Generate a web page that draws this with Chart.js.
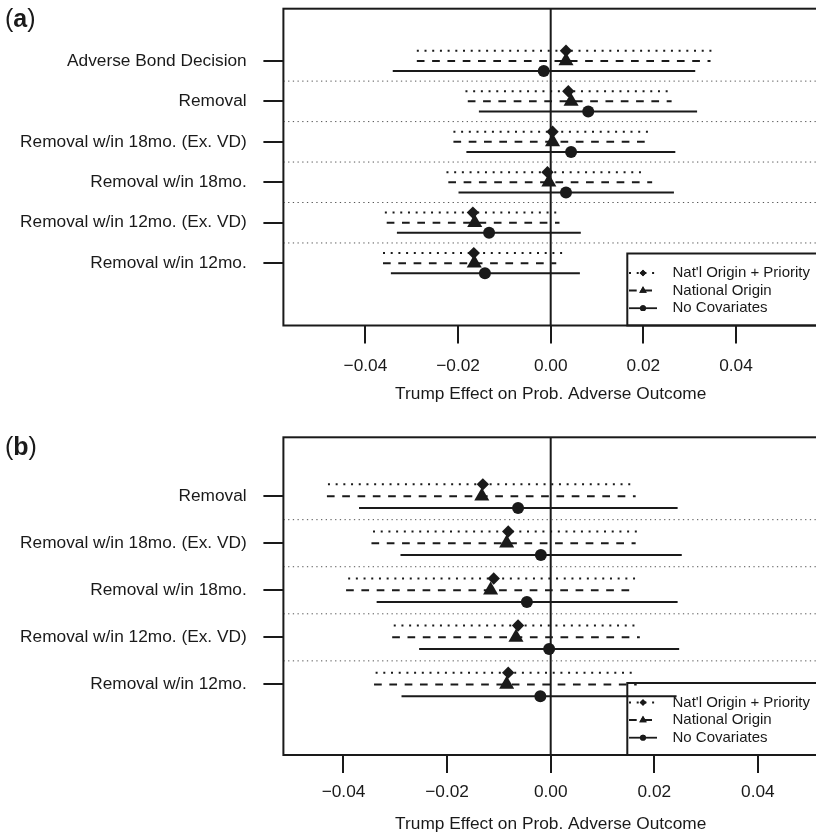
<!DOCTYPE html>
<html>
<head>
<meta charset="utf-8">
<script src="https://cdn.jsdelivr.net/npm/chart.js@4.4.1/dist/chart.umd.min.js"></script>
<style>
  html, body { margin: 0; padding: 0; background: #fff; overflow: hidden; }
  canvas { position: absolute; left: 0; }
  #chartA { top: 0; }
  #chartB { top: 418px; }
</style>
</head>
<body>
<canvas id="chartA" width="830" height="418"></canvas>
<canvas id="chartB" width="830" height="419"></canvas>
<script>
// model names (legend) and axis text
const modelNames = ["Nat'l Origin + Priority", "National Origin", "No Covariates"];
const xTitle = 'Trump Effect on Prob. Adverse Outcome';
const xTickValues = [-0.04, -0.02, 0, 0.02, 0.04];

// panel (a): outcomes, top to bottom
const labelsA = ['Adverse Bond Decision', 'Removal', 'Removal w/in 18mo. (Ex. VD)',
  'Removal w/in 18mo.', 'Removal w/in 12mo. (Ex. VD)', 'Removal w/in 12mo.'];
const estPriorityA = [0.0033, 0.0038, 0.0004, -0.0007, -0.0168, -0.0166];
const loPriorityA  = [-0.0289, -0.0184, -0.0210, -0.0225, -0.0358, -0.0362];
const hiPriorityA  = [0.0355, 0.0259, 0.0216, 0.0200, 0.0016, 0.0030];
const estNationalA = [0.0033, 0.0044, 0.0004, -0.0004, -0.0164, -0.0165];
const loNationalA  = [-0.0289, -0.0179, -0.0210, -0.0221, -0.0354, -0.0362];
const hiNationalA  = [0.0345, 0.0261, 0.0219, 0.0219, 0.0019, 0.0012];
const estNoCovA    = [-0.0015, 0.0081, 0.0044, 0.0033, -0.0133, -0.0142];
const loNoCovA     = [-0.0341, -0.0155, -0.0182, -0.0199, -0.0332, -0.0345];
const hiNoCovA     = [0.0312, 0.0316, 0.0269, 0.0266, 0.0065, 0.0063];

// panel (b)
const labelsB = ['Removal', 'Removal w/in 18mo. (Ex. VD)', 'Removal w/in 18mo.',
  'Removal w/in 12mo. (Ex. VD)', 'Removal w/in 12mo.'];
const estPriorityB = [-0.0131, -0.0082, -0.0110, -0.0063, -0.0082];
const loPriorityB  = [-0.0430, -0.0343, -0.0391, -0.0303, -0.0338];
const hiPriorityB  = [0.0162, 0.0174, 0.0170, 0.0168, 0.0164];
const estNationalB = [-0.0133, -0.0085, -0.0116, -0.0067, -0.0085];
const loNationalB  = [-0.0432, -0.0346, -0.0395, -0.0306, -0.0341];
const hiNationalB  = [0.0164, 0.0164, 0.0164, 0.0172, 0.0166];
const estNoCovB    = [-0.0063, -0.0019, -0.0046, -0.0003, -0.0020];
const loNoCovB     = [-0.0370, -0.0290, -0.0336, -0.0254, -0.0288];
const hiNoCovB     = [0.0245, 0.0253, 0.0245, 0.0248, 0.0243];

const DARK = '#1a1a1a';
const FONT = "'Liberation Sans', Arial, Helvetica, sans-serif";
const styles = [
  { dash: [2, 5.7], point: 'rectRot', radius: 6.2, legendRadius: 3.3 },
  { dash: [7.7, 7.6], point: 'triangle', radius: 8.7, legendRadius: 4.3 },
  { dash: [], point: 'circle', radius: 6, legendRadius: 2.9 }
];
const offsets = [0.25, 0, -0.25];

const fmt = v => v.toFixed(2).replace('-', '\u2212');

const framePlugin = {
  id: 'frame',
  beforeDatasetsDraw(chart) {
    const { ctx, chartArea: a, scales: { x } } = chart;
    const x0 = x.getPixelForValue(0);
    ctx.save();
    ctx.strokeStyle = DARK;
    ctx.lineWidth = 2;
    ctx.beginPath();
    ctx.moveTo(x0, a.top);
    ctx.lineTo(x0, a.bottom);
    ctx.stroke();
    ctx.restore();
  },
  afterDraw(chart, args, opts) {
    const { ctx, chartArea: a } = chart;
    ctx.save();
    ctx.strokeStyle = DARK;
    ctx.lineWidth = 2;
    ctx.strokeRect(a.left, a.top, a.right - a.left, a.bottom - a.top);

    // legend, lower right corner, no fill
    const lx = 627.3, top = a.bottom - 72;
    ctx.strokeRect(lx, top, a.right + 20 - lx, a.bottom - top);
    const rowsY = [a.bottom - 52.5, a.bottom - 35, a.bottom - 17.3];
    modelNames.forEach((name, k) => {
      const st = styles[k];
      const y = rowsY[k];
      ctx.lineWidth = 1.8;
      ctx.setLineDash(st.dash);
      ctx.beginPath();
      ctx.moveTo(629, y);
      ctx.lineTo(657, y);
      ctx.stroke();
      ctx.setLineDash([]);
      Chart.helpers.drawPoint(ctx, { pointStyle: st.point, radius: st.legendRadius, rotation: 0, borderWidth: 0 }, 643, y);
      ctx.fillStyle = DARK;
      ctx.fill();
      ctx.font = '15px ' + FONT;
      ctx.textBaseline = 'middle';
      ctx.textAlign = 'left';
      ctx.fillText(name, 672.5, y);
    });

    // panel letter, e.g. (a)
    ctx.fillStyle = DARK;
    ctx.textBaseline = 'alphabetic';
    let px = 5;
    const py = opts.letterY;
    ctx.font = '25px ' + FONT;
    ctx.fillText('(', px, py);
    px += ctx.measureText('(').width;
    ctx.font = 'bold 25px ' + FONT;
    ctx.fillText(opts.letter, px, py);
    px += ctx.measureText(opts.letter).width;
    ctx.font = '25px ' + FONT;
    ctx.fillText(')', px, py);
    ctx.restore();
  }
};

function buildPanel(id, p) {
  const n = p.labels.length;
  const rowY = i => n - i;
  const models = [
    { est: p.estPriority, lo: p.loPriority, hi: p.hiPriority },
    { est: p.estNational, lo: p.loNational, hi: p.hiNational },
    { est: p.estNoCov, lo: p.loNoCov, hi: p.hiNoCov }
  ];
  const datasets = [];
  models.forEach((m, k) => {
    const st = styles[k];
    const segs = [];
    m.lo.forEach((lo, i) => {
      const y = rowY(i) + offsets[k];
      segs.push({ x: lo, y: y }, { x: m.hi[i], y: y }, { x: NaN, y: NaN });
    });
    datasets.push({
      label: modelNames[k] + ' interval',
      data: segs,
      showLine: true,
      spanGaps: false,
      borderColor: DARK,
      borderWidth: 2,
      borderDash: st.dash,
      borderCapStyle: 'butt',
      pointRadius: 0,
      order: 2
    });
    datasets.push({
      label: modelNames[k],
      data: m.est.map((x, i) => ({ x: x, y: rowY(i) + offsets[k] })),
      showLine: false,
      pointStyle: st.point,
      pointRadius: st.radius,
      pointBackgroundColor: DARK,
      pointBorderWidth: 0,
      order: 1
    });
  });
  // dotted separators between outcomes
  const sep = [];
  for (let i = 1; i < n; i++) {
    const y = n - i + 0.5;
    sep.push({ x: -p.xLim, y: y }, { x: p.xLim, y: y }, { x: NaN, y: NaN });
  }
  datasets.push({
    label: 'sep', data: sep, showLine: true, spanGaps: false,
    borderColor: '#555', borderWidth: 1, borderDash: [1.3, 3.4], pointRadius: 0, order: 3
  });

  const ext = 0.04 * (n + 1.25);
  return new Chart(document.getElementById(id), {
    type: 'scatter',
    data: { datasets: datasets },
    plugins: [framePlugin],
    options: {
      responsive: false,
      animation: false,
      events: [],
      layout: { padding: { top: p.padTop, right: 12, left: 0, bottom: 0 } },
      plugins: {
        legend: { display: false },
        tooltip: { enabled: false },
        frame: { letter: p.letter, letterY: p.letterY }
      },
      scales: {
        x: {
          type: 'linear',
          min: -p.xLim,
          max: p.xLim,
          afterBuildTicks: s => { s.ticks = xTickValues.map(v => ({ value: v })); },
          afterFit: s => { s.height = p.xAxisHeight; s.paddingLeft = 0; s.paddingRight = 0; },
          grid: { drawOnChartArea: false, drawTicks: true, tickLength: 18, tickWidth: 2, tickColor: DARK, lineWidth: 2 },
          border: { display: false },
          ticks: {
            padding: p.xTickPad, color: DARK, autoSkip: false, maxRotation: 0,
            font: { family: FONT, size: 17.3 },
            callback: v => fmt(v)
          },
          title: {
            display: true, text: xTitle, color: DARK,
            font: { family: FONT, size: 17.3 },
            padding: { top: 0, bottom: p.titlePad }
          }
        },
        y: {
          type: 'linear',
          min: -0.25 - ext,
          max: n + 1 + ext,
          afterBuildTicks: s => { s.ticks = p.labels.map((_, i) => ({ value: rowY(i) })); },
          afterFit: s => { s.width = 283.4; s.paddingTop = 0; s.paddingBottom = 0; },
          grid: { drawOnChartArea: false, drawTicks: true, tickLength: 20, tickWidth: 2, tickColor: DARK, lineWidth: 2 },
          border: { display: false },
          ticks: {
            padding: 16.7, color: DARK, autoSkip: false,
            font: { family: FONT, size: 17.3 },
            callback: v => p.labels[n - v]
          }
        }
      }
    }
  });
}

buildPanel('chartA', {
  labels: labelsA,
  estPriority: estPriorityA, loPriority: loPriorityA, hiPriority: hiPriorityA,
  estNational: estNationalA, loNational: loNationalA, hiNational: hiNationalA,
  estNoCov: estNoCovA, loNoCov: loNoCovA, hiNoCov: hiNoCovA,
  xLim: 0.0577, padTop: 8.2, xAxisHeight: 92.5, xTickPad: 12, titlePad: 13.4,
  letter: 'a', letterY: 26.7
});

buildPanel('chartB', {
  labels: labelsB,
  estPriority: estPriorityB, loPriority: loPriorityB, hiPriority: hiPriorityB,
  estNational: estNationalB, loNational: loNationalB, hiNational: hiNationalB,
  estNoCov: estNoCovB, loNoCov: loNoCovB, hiNoCov: hiNoCovB,
  xLim: 0.0516, padTop: 19.3, xAxisHeight: 82, xTickPad: 9.3, titlePad: 2.1,
  letter: 'b', letterY: 37
});
</script>
</body>
</html>
